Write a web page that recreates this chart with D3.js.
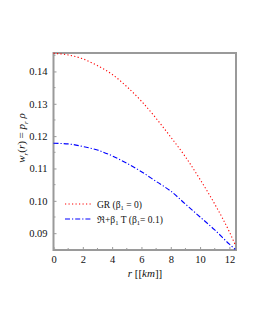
<!DOCTYPE html>
<html>
<head>
<meta charset="utf-8">
<script src="https://cdn.jsdelivr.net/npm/d3@7"></script>
<style>
  body { margin: 0; background: #fff; }
</style>
</head>
<body>
<svg id="chart" width="255" height="330"></svg>
<script>
// radius samples (km)
const rValues = [0, 1, 2, 3, 4, 5, 6, 7, 8, 9, 10, 11, 12, 12.4];
// GR (beta1 = 0)
const grValues = [0.1456, 0.1451, 0.1439, 0.1418, 0.1391, 0.1353, 0.1308, 0.1255, 0.1197, 0.1136, 0.1066, 0.0990, 0.0904, 0.0864];
// R + beta1 T (beta1 = 0.1)
const frValues = [0.1178, 0.1176, 0.1168, 0.1157, 0.1139, 0.1116, 0.1090, 0.1060, 0.1030, 0.0990, 0.0950, 0.0910, 0.0866, 0.0850];

const xTicks = [0, 2, 4, 6, 8, 10, 12];
const yTicks = [0.09, 0.10, 0.11, 0.12, 0.13, 0.14];

const box = { left: 53.5, right: 236, top: 53, bottom: 250 };
const frameColor = '#9a9a9a';
const serif = '"Liberation Serif", "Times New Roman", "DejaVu Serif", serif';

const svg = d3.select('#chart');

const x = d3.scaleLinear().domain([0, 12.45]).range([box.left, box.right]);
const y = d3.scaleLinear().domain([0.0848, 0.1457]).range([box.bottom, box.top]);

// axes with inward ticks
const xAxis = svg.append('g')
    .attr('transform', `translate(0,${box.bottom})`)
    .call(d3.axisBottom(x).tickValues(xTicks).tickFormat(d3.format('d')).tickSize(-3).tickPadding(6));
const yAxis = svg.append('g')
    .attr('transform', `translate(${box.left},0)`)
    .call(d3.axisLeft(y).tickValues(yTicks).tickFormat(d3.format('.2f')).tickSize(-3).tickPadding(6));

[xAxis, yAxis].forEach(g => {
    g.attr('font-family', serif).attr('font-size', 10.5);
    g.select('.domain').remove();
    g.selectAll('.tick line').attr('stroke', frameColor);
    g.selectAll('.tick text').attr('fill', '#111');
});

// minor ticks
svg.append('g').selectAll('line')
    .data(d3.range(1, 13, 2))
    .join('line')
    .attr('x1', d => x(d)).attr('x2', d => x(d))
    .attr('y1', box.bottom).attr('y2', box.bottom - 2)
    .attr('stroke', frameColor);
svg.append('g').selectAll('line')
    .data([0.085, 0.095, 0.105, 0.115, 0.125, 0.135, 0.145])
    .join('line')
    .attr('x1', box.left).attr('x2', box.left + 2)
    .attr('y1', d => y(d)).attr('y2', d => y(d))
    .attr('stroke', frameColor);

// frame
svg.append('rect')
    .attr('x', box.left).attr('y', box.top)
    .attr('width', box.right - box.left).attr('height', box.bottom - box.top)
    .attr('fill', 'none')
    .attr('stroke', frameColor)
    .attr('stroke-width', 2);

// curves
const line = vals => d3.line()
    .x((d, i) => x(rValues[i]))
    .y(d => y(d))
    .curve(d3.curveMonotoneX)(vals);

svg.append('path')
    .attr('d', line(grValues))
    .attr('fill', 'none')
    .attr('stroke', '#ff0000')
    .attr('stroke-width', 1.1)
    .attr('stroke-dasharray', '1.2,2.3');

svg.append('path')
    .attr('d', line(frValues))
    .attr('fill', 'none')
    .attr('stroke', '#0000ff')
    .attr('stroke-width', 1.1)
    .attr('stroke-dasharray', '5,2,1.2,2');

// legend
const legend = svg.append('g').attr('font-family', serif).attr('fill', '#111');
legend.append('line')
    .attr('x1', 65).attr('x2', 91).attr('y1', 204).attr('y2', 204)
    .attr('stroke', '#ff0000').attr('stroke-width', 1.1).attr('stroke-dasharray', '1.2,2.3');
legend.append('line')
    .attr('x1', 65).attr('x2', 91).attr('y1', 219).attr('y2', 219)
    .attr('stroke', '#0000ff').attr('stroke-width', 1.1).attr('stroke-dasharray', '5,2,1.2,2');

const t1 = legend.append('text').attr('x', 97).attr('y', 207.5).attr('font-size', 9.5);
t1.append('tspan').text('GR (β');
t1.append('tspan').attr('dy', 2).attr('font-size', 6.5).text('1');
t1.append('tspan').attr('dy', -2).text(' = 0)');

const t2 = legend.append('text').attr('x', 97).attr('y', 222.5).attr('font-size', 9.5);
t2.append('tspan').text('ℜ+β');
t2.append('tspan').attr('dy', 2).attr('font-size', 6.5).text('1');
t2.append('tspan').attr('dy', -2).text(' T (β');
t2.append('tspan').attr('dy', 2).attr('font-size', 6.5).text('1');
t2.append('tspan').attr('dy', -2).text('= 0.1)');

// axis titles
const xl = svg.append('text')
    .attr('x', 145).attr('y', 277)
    .attr('text-anchor', 'middle')
    .attr('font-family', serif)
    .attr('font-size', 11)
    .attr('fill', '#111');
xl.append('tspan').attr('font-style', 'italic').text('r');
xl.append('tspan').text(' [[');
xl.append('tspan').attr('font-style', 'italic').text('km');
xl.append('tspan').text(']]');

const yl = svg.append('text')
    .attr('transform', 'translate(25,138) rotate(-90)')
    .attr('text-anchor', 'middle')
    .attr('font-family', serif)
    .attr('font-size', 11)
    .attr('fill', '#111');
yl.append('tspan').attr('font-style', 'italic').text('w');
yl.append('tspan').attr('dy', 2.5).attr('font-size', 7).attr('font-style', 'italic').text('r');
yl.append('tspan').attr('dy', -2.5).text('(');
yl.append('tspan').attr('font-style', 'italic').text('r');
yl.append('tspan').text(') = ');
yl.append('tspan').attr('font-style', 'italic').text('p');
yl.append('tspan').attr('dy', 2.5).attr('font-size', 7).attr('font-style', 'italic').text('r');
yl.append('tspan').attr('dy', -2.5).attr('font-style', 'italic').text(' ρ');
</script>
</body>
</html>
